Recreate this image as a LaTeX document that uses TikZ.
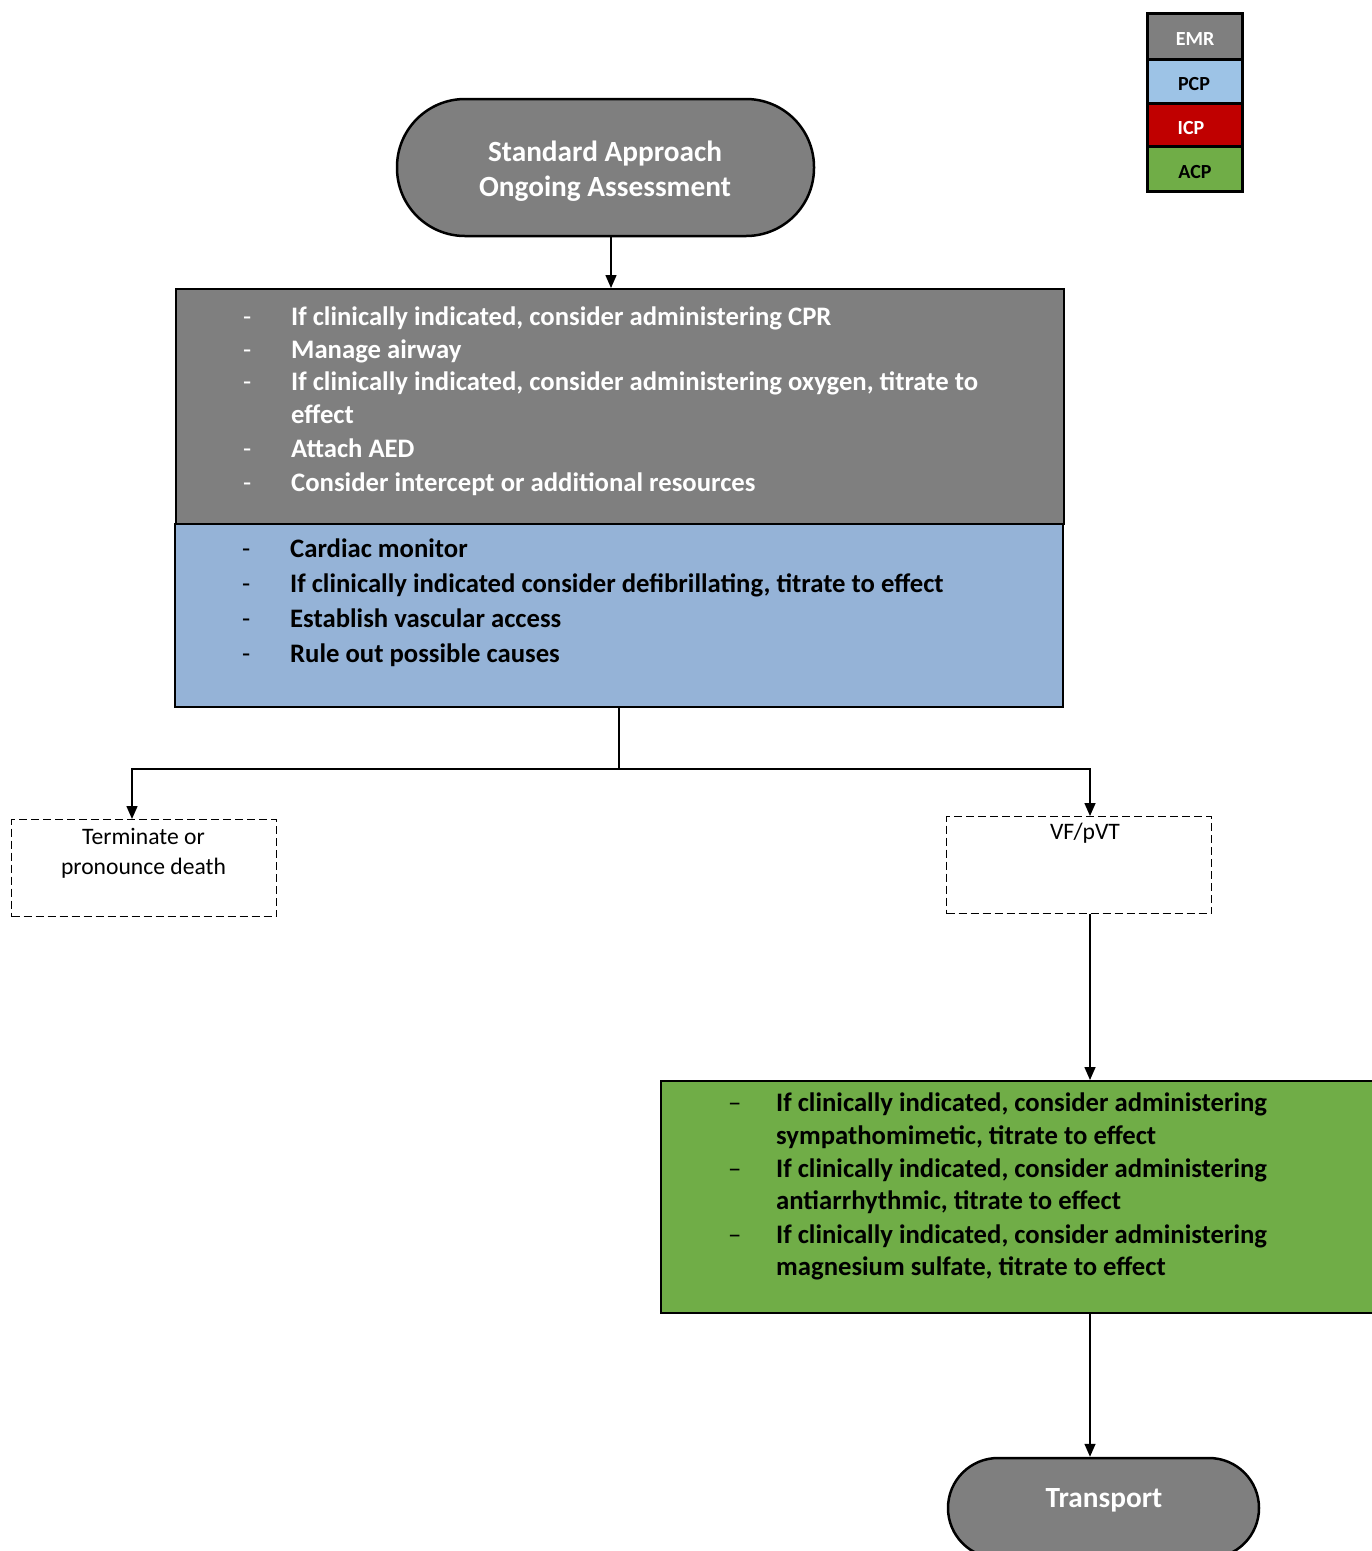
\documentclass[tikz,border=0pt]{standalone}
\usepackage{fontspec}
\setmainfont{Carlito}
\usetikzlibrary{arrows.meta}
\definecolor{midgray}{HTML}{7F7F7F}
\definecolor{pcpblue}{HTML}{9DC3E6}
\definecolor{boxblue}{HTML}{95B3D7}
\definecolor{icpred}{HTML}{C00000}
\definecolor{acpgreen}{HTML}{70AD47}
\tikzset{
  stadium/.style={draw=black, line width=2.5pt, fill=midgray, inner sep=0pt, text=white,
    font=\fontsize{29.3}{35}\selectfont\bfseries, align=center},
  panel/.style={draw=black, line width=1.5pt, inner sep=0pt, anchor=north west},
  legendbox/.style={draw=black, line width=3pt, inner sep=0pt, minimum width=95pt,
    font=\fontsize{20}{24}\selectfont\bfseries},
  legendtxt/.style={inner sep=0pt, font=\fontsize{20}{24}\selectfont\bfseries},
  dashbox/.style={draw=black, line width=1.2pt, dash pattern=on 8pt off 4pt, inner sep=0pt,
    anchor=north west, minimum width=265pt, minimum height=97pt},
  plain/.style={inner sep=0pt, font=\fontsize{23.6}{30}\selectfont, align=center},
  listtxt/.style={anchor=base west, inner sep=0pt, font=\fontsize{26.7}{33}\selectfont\bfseries},
  listdash/.style={anchor=base west, inner sep=0pt, font=\fontsize{26.7}{33}\selectfont},
  arr/.style={line width=1.5pt, -{Triangle[width=11pt,length=13pt]}},
  ln/.style={line width=1.5pt}
}
\begin{document}
\begin{tikzpicture}[x=1pt, y=-1pt]
\useasboundingbox (0,0) rectangle (1372,1551);
\clip (0,0) rectangle (1372,1551);
\fill[white] (0,0) rectangle (1372,1551);

% legend
\node[legendbox, fill=midgray, minimum height=46pt] (emr) at (1194.5,36) {};
\node[legendbox, fill=pcpblue, minimum height=44pt] (pcp) at (1194.5,81) {};
\node[legendbox, fill=icpred, minimum height=43pt] (icp) at (1194.5,124.5) {};
\node[legendbox, fill=acpgreen, minimum height=45pt] (acp) at (1194.5,168.5) {};
\node[legendtxt, text=white] (emrtxt) at (1195,39) {EMR};
\node[legendtxt, text=black] (pcptxt) at (1194,84) {PCP};
\node[legendtxt, text=white] (icptxt) at (1191,128) {ICP};
\node[legendtxt, text=black] (acptxt) at (1195,172) {ACP};

% top stadium
\node[stadium, rounded corners=68pt, minimum width=417pt, minimum height=137pt] (top) at (605.5,167.5) {};
\node[stadium, draw=none, fill=none] (toptxt) at (605,171.5) {Standard Approach\\Ongoing Assessment};

% gray panel
\node[panel, fill=midgray, minimum width=888pt, minimum height=235pt] (gray) at (175,288) {};
\foreach \yy/\txt [count=\i] in {325/{If clinically indicated, consider administering CPR},
  358/{Manage airway},
  390/{If clinically indicated, consider administering oxygen, titrate to},
  423/{effect},
  457/{Attach AED},
  491/{Consider intercept or additional resources}}
  \node[listtxt, text=white] (g\i) at (291,\yy) {\txt};
\foreach \yy [count=\i] in {325,358,390,457,491}
  \node[listdash, text=white] (gd\i) at (243,\yy) {-};

% blue panel
\node[panel, fill=boxblue, minimum width=888pt, minimum height=183pt] (blue) at (174,523) {};
\foreach \yy/\txt [count=\i] in {557/{Cardiac monitor},
  592/{If clinically indicated consider defibrillating, titrate to effect},
  627/{Establish vascular access},
  662/{Rule out possible causes}}
  \node[listtxt, text=black] (b\i) at (290,\yy) {\txt};
\foreach \yy [count=\i] in {557,592,627,662}
  \node[listdash, text=black] (bd\i) at (242,\yy) {-};

% dashed boxes
\node[dashbox] (term) at (11,819) {};
\node[plain] (termtxt) at (143.5,853) {Terminate or\\pronounce death};
\node[dashbox] (vf) at (946,816) {};
\node[plain] (vftxt) at (1085,833) {VF/pVT};

% green panel
\node[panel, fill=acpgreen, minimum width=740pt, minimum height=232pt] (green) at (660,1080) {};
\foreach \yy/\txt [count=\i] in {1111/{If clinically indicated, consider administering},
  1144/{sympathomimetic, titrate to effect},
  1177/{If clinically indicated, consider administering},
  1209/{antiarrhythmic, titrate to effect},
  1243/{If clinically indicated, consider administering},
  1275/{magnesium sulfate, titrate to effect}}
  \node[listtxt, text=black] (gr\i) at (776,\yy) {\txt};
\foreach \yy [count=\i] in {1111,1177,1243}
  \node[listdash, text=black] (grd\i) at (728,\yy) {--};

% transport
\node[stadium, rounded corners=50pt, minimum width=311pt, minimum height=100pt] (trans) at (1103.5,1508) {};
\node[stadium, draw=none, fill=none] (transtxt) at (1104,1500) {Transport};

% connectors
\coordinate (tin) at (132,819);
\coordinate (vin) at (1090,816);
\coordinate (junc) at (blue.south |- 0,769);
\draw[arr] ([xshift=5.5pt]top.south) -- ([xshift=5.5pt]top.south |- gray.north);
\draw[ln] (blue.south) -- (junc);
\draw[arr] (junc) -| (tin);
\draw[arr] (junc) -| (vin);
\draw[arr] (vin |- vf.south) -- (vin |- green.north);
\draw[arr] (vin |- green.south) -- (vin |- trans.north);
\end{tikzpicture}
\end{document}
